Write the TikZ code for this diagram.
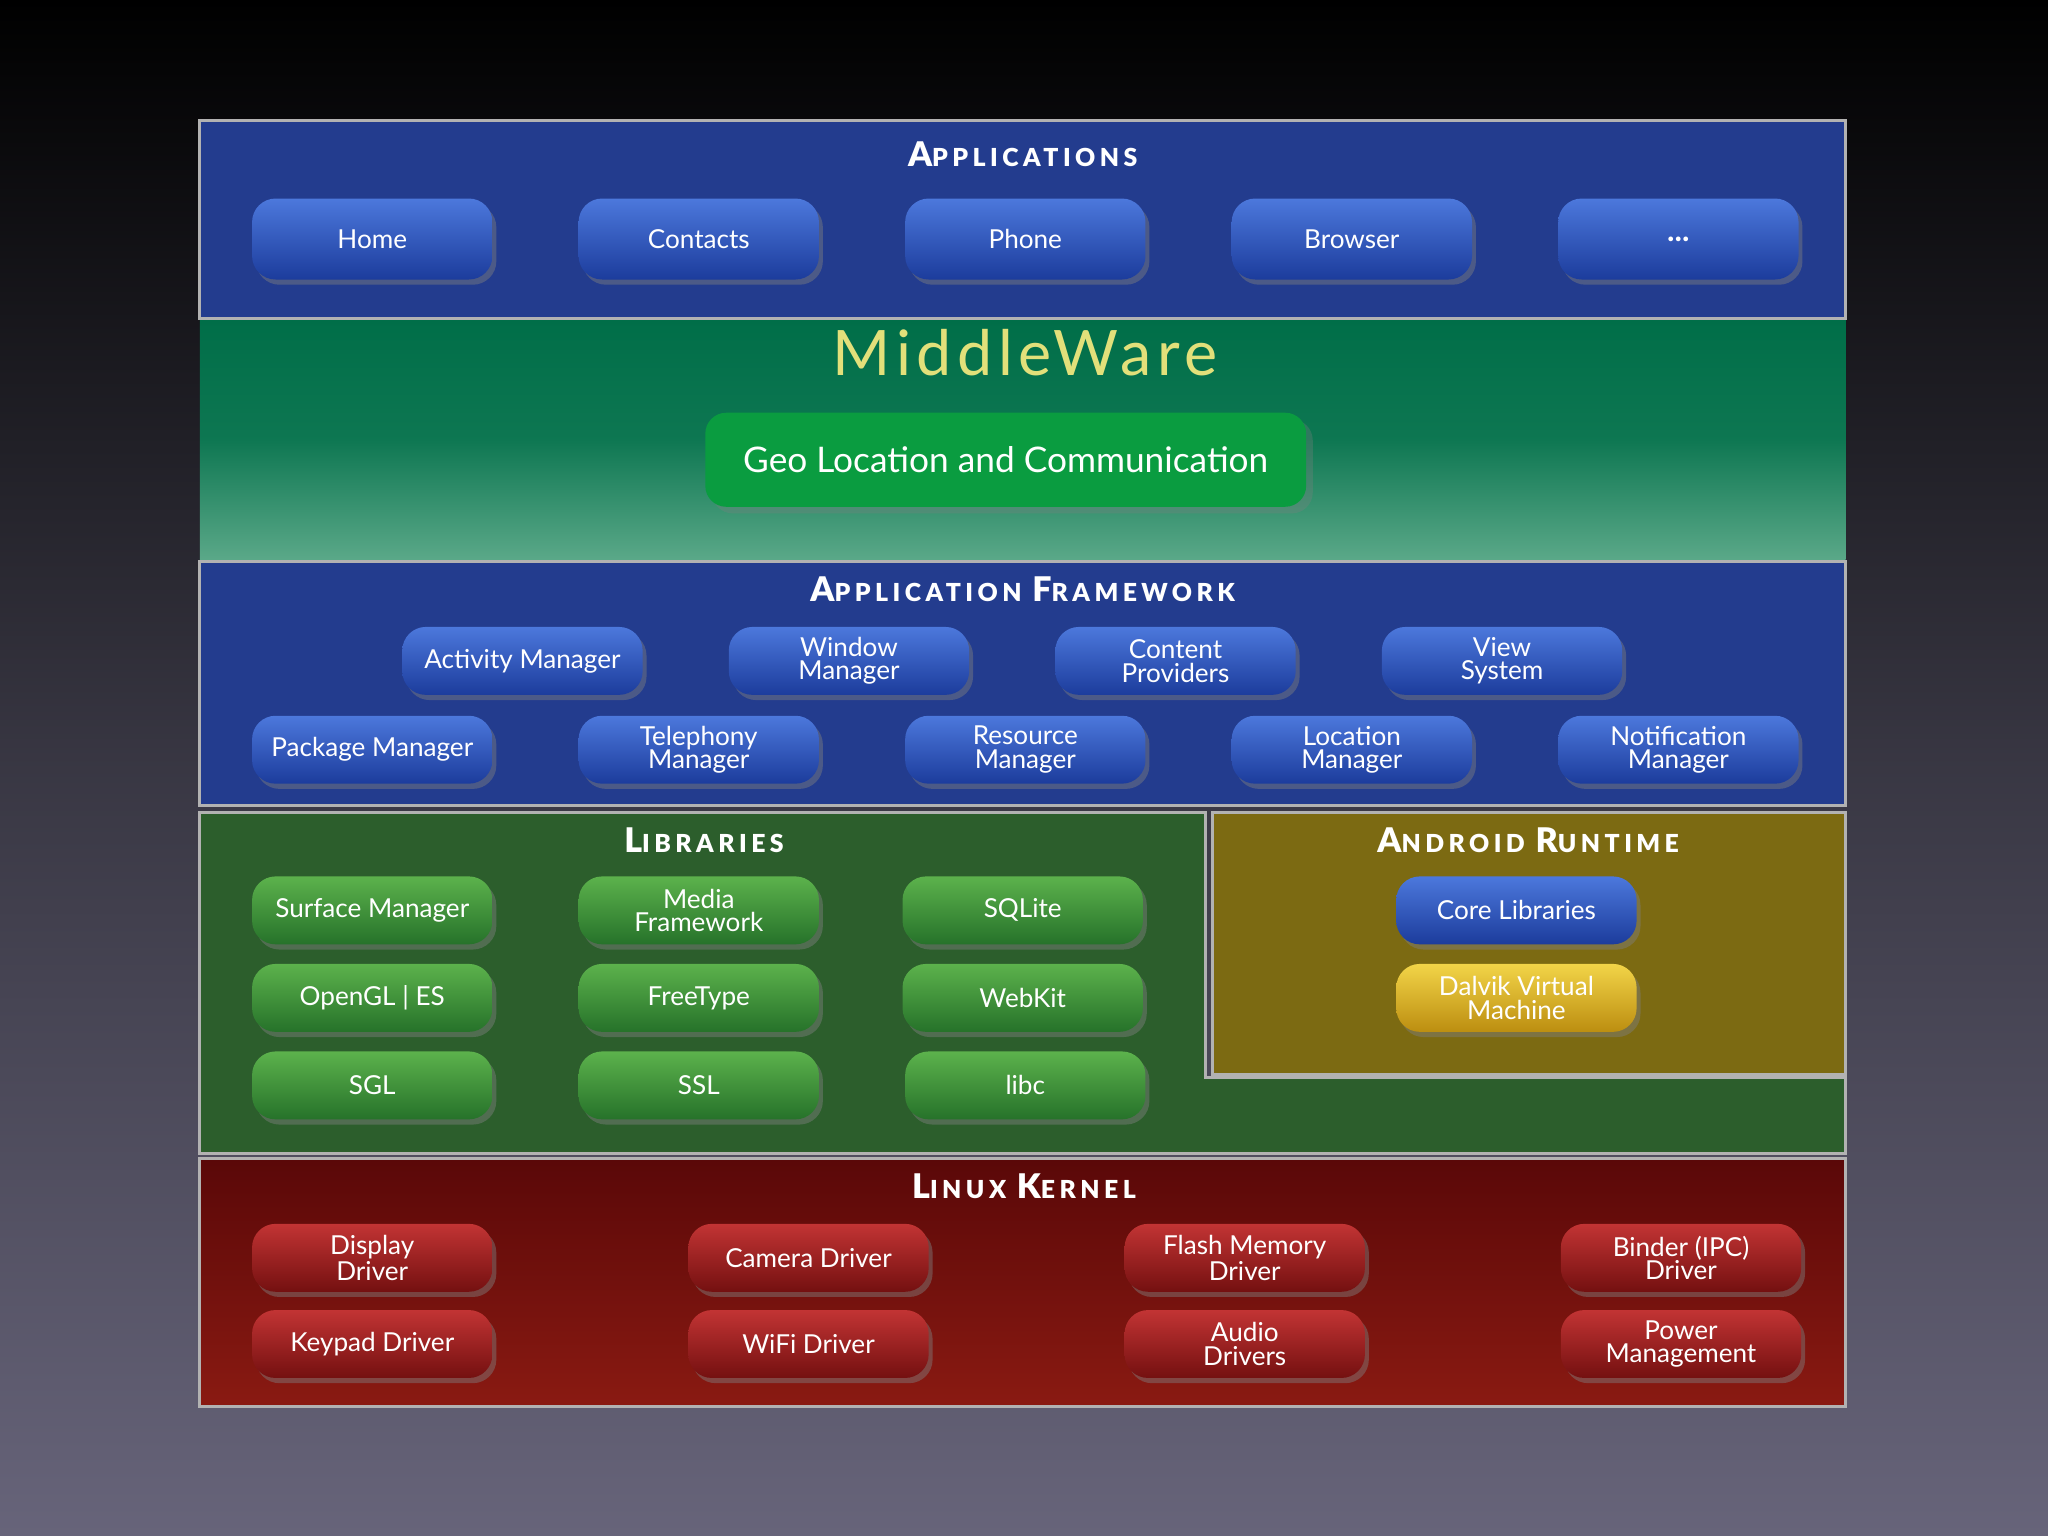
\documentclass[tikz,border=0pt]{standalone}
\usepackage{fontspec}
\setmainfont{Lato}
\newfontfamily\wideb[LetterSpace=18]{Lato Black}
\newfontfamily\widemw[LetterSpace=9]{Lato}
\usetikzlibrary{shadows}
\definecolor{bgtop}{HTML}{000000}
\definecolor{bgbot}{HTML}{67647A}
\definecolor{layblue}{HTML}{233C8E}
\definecolor{laygreen}{HTML}{2C5E2C}
\definecolor{layolive}{HTML}{7C6A12}
\definecolor{redtop}{HTML}{5A0808}
\definecolor{redbot}{HTML}{8A1A12}
\definecolor{mwtop}{HTML}{006E48}
\definecolor{mwbot}{HTML}{5AA888}
\definecolor{bbt}{HTML}{4C78DC}\definecolor{bbb}{HTML}{1C3C9C}
\definecolor{gbt}{HTML}{5CB24C}\definecolor{gbb}{HTML}{26722A}
\definecolor{rbt}{HTML}{C23434}\definecolor{rbb}{HTML}{741010}
\definecolor{ybt}{HTML}{F2D448}\definecolor{ybb}{HTML}{BC8E10}
\definecolor{geo}{HTML}{0A9C40}
\definecolor{mwtext}{HTML}{E2E07A}
\newcommand{\fsc}[2]{{\fontsize{13}{13}\selectfont #1}{\fontsize{9.5}{10}\selectfont #2}}
\tikzset{
 layer/.style={draw=gray!60, line width=1.2pt},
 btn/.style={rounded corners=9pt, minimum width=92pt, minimum height=26pt, inner sep=1pt,
   text=white, align=center, font=\fontsize{10}{9}\selectfont,
   drop shadow={opacity=0.45, shadow xshift=1.5pt, shadow yshift=-2pt}},
 bb/.style={btn, top color=bbt, bottom color=bbb},
 gb/.style={btn, top color=gbt, bottom color=gbb},
 rb/.style={btn, top color=rbt, bottom color=rbb},
 yb/.style={btn, top color=ybt, bottom color=ybb},
 ttl/.style={text=white, font=\wideb, inner sep=0pt}
}
\begin{document}
\begin{tikzpicture}[x=0.5pt,y=-0.5pt]
\shade[top color=bgtop, bottom color=bgbot, middle color=bgbot!55!black] (0,0) rectangle (1568,1176);
\useasboundingbox (0,0) rectangle (1568,1176);
% layers
\fill[top color=mwtop, bottom color=mwbot, middle color=mwtop!85!mwbot] (153,244) rectangle (1413,428);
\draw[layer, fill=layblue] (153,92) rectangle (1413,244);
\draw[layer, fill=layblue] (153,430) rectangle (1413,617);
\draw[layer, fill=laygreen] (153,622) -- (923,622) -- (923,825) -- (1413,825) -- (1413,883) -- (153,883) -- cycle;
\draw[layer, fill=layolive] (928,622) rectangle (1413,823);
\draw[layer, top color=redtop, bottom color=redbot] (153,887) rectangle (1413,1077);
% titles
\node[ttl] (tapp) at (783,118) {\fsc{A}{PPLICATIONS}};
\node[text=mwtext, inner sep=0pt, font=\widemw\fontsize{24}{24}\selectfont] (tmw) at (785,270) {MiddleWare};
\node[ttl] (tfw) at (783,451) {\fsc{A}{PPLICATION} \fsc{F}{RAMEWORK}};
\node[ttl] (tlib) at (539,643) {\fsc{L}{IBRARIES}};
\node[ttl] (trt) at (1170,643) {\fsc{A}{NDROID} \fsc{R}{UNTIME}};
\node[ttl] (tlk) at (784,908) {\fsc{L}{INUX} \fsc{K}{ERNEL}};
% geo
\node[fill=geo, rounded corners=8pt, minimum width=230pt, minimum height=36pt, text=white,
  font=\fontsize{13.5}{14}\selectfont, drop shadow={opacity=0.3}] (geo) at (770,352) {Geo Location and Communication};
% apps
\tikzset{ab/.style={bb, minimum height=31pt}}
\node[ab] (home) at (285,183) {Home};
\node[ab] (contacts) at (535,183) {Contacts};
\node[ab] (phone) at (785,183) {Phone};
\node[ab] (browser) at (1035,183) {Browser};
\node[ab, font=\bfseries\large] (more) at (1285,183) {...};
% framework
\node[bb] (act) at (400,506) {Activity Manager};
\node[bb] (win) at (650,506) {Window\\Manager};
\node[bb] (cont) at (900,506) {Content\\Providers};
\node[bb] (view) at (1150,506) {View\\System};
\node[bb] (pkg) at (285,574) {Package Manager};
\node[bb] (tel) at (535,574) {Telephony\\Manager};
\node[bb] (res) at (785,574) {Resource\\Manager};
\node[bb] (loc) at (1035,574) {Location\\Manager};
\node[bb] (notif) at (1285,574) {Notification\\Manager};
% libraries
\node[gb] (surf) at (285,697) {Surface Manager};
\node[gb] (media) at (535,697) {Media\\Framework};
\node[gb] (sqlite) at (783,697) {SQLite};
\node[gb] (opengl) at (285,764) {OpenGL | ES};
\node[gb] (freetype) at (535,764) {FreeType};
\node[gb] (webkit) at (783,764) {WebKit};
\node[gb] (sgl) at (285,831) {SGL};
\node[gb] (ssl) at (535,831) {SSL};
\node[gb] (libc) at (785,831) {libc};
% runtime
\node[bb] (core) at (1161,697) {Core Libraries};
\node[yb] (dalvik) at (1161,764) {Dalvik Virtual\\Machine};
% kernel
\node[rb] (disp) at (285,963) {Display\\Driver};
\node[rb] (cam) at (619,963) {Camera Driver};
\node[rb] (flash) at (953,963) {Flash Memory\\Driver};
\node[rb] (binder) at (1287,963) {Binder (IPC)\\Driver};
\node[rb] (key) at (285,1029) {Keypad Driver};
\node[rb] (wifi) at (619,1029) {WiFi Driver};
\node[rb] (audio) at (953,1029) {Audio\\Drivers};
\node[rb] (power) at (1287,1029) {Power\\Management};
\end{tikzpicture}
\end{document}
